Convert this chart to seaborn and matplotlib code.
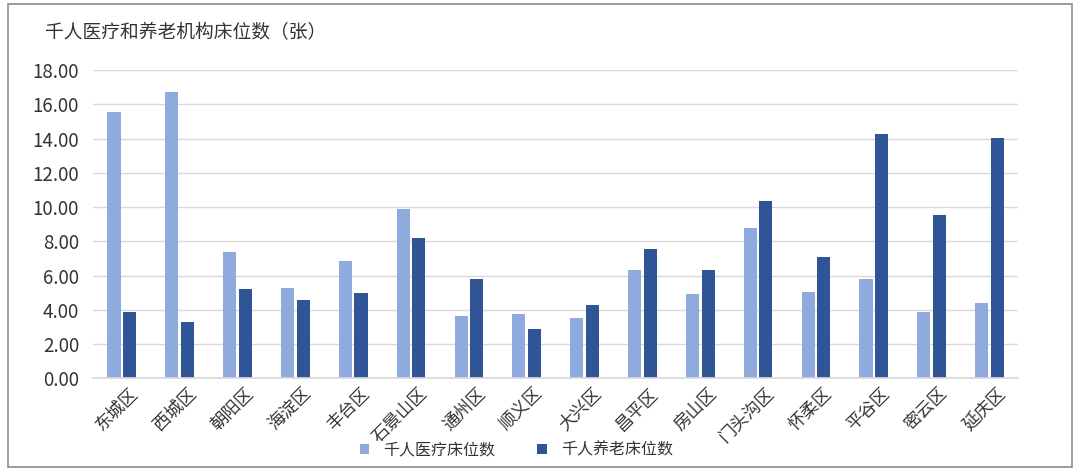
import matplotlib
matplotlib.use("Agg")
import matplotlib.pyplot as plt
import matplotlib.transforms as mtransforms
import seaborn as sns
import pandas as pd
from matplotlib.patches import FancyBboxPatch

districts = ["东城区", "西城区", "朝阳区", "海淀区", "丰台区", "石景山区", "通州区", "顺义区",
             "大兴区", "昌平区", "房山区", "门头沟区", "怀柔区", "平谷区", "密云区", "延庆区"]
medical = [15.55, 16.70, 7.36, 5.26, 6.84, 9.88, 3.62, 3.74,
           3.50, 6.31, 4.91, 8.77, 5.03, 5.79, 3.86, 4.38]
elderly = [3.86, 3.27, 5.20, 4.56, 4.97, 8.18, 5.79, 2.86,
           4.27, 7.54, 6.31, 10.34, 7.07, 14.26, 9.53, 14.03]
series_names = ["千人医疗床位数", "千人养老床位数"]
title = "千人医疗和养老机构床位数（张）"
yticks = [0, 2, 4, 6, 8, 10, 12, 14, 16, 18]

df = pd.DataFrame({
    "district": districts * 2,
    "value": medical + elderly,
    "series": [series_names[0]] * len(districts) + [series_names[1]] * len(districts),
})

sns.set_theme(style="white")
plt.rcParams["font.family"] = ["Noto Sans CJK SC", "DejaVu Sans"]

fig = plt.figure(figsize=(10.8, 4.71), dpi=100)
ax = fig.add_axes([0.086, 0.197, 0.857, 0.654])

sns.barplot(data=df, x="district", y="value", hue="series",
            palette=["#8FAADC", "#2F5597"], width=0.54, gap=0.16,
            saturation=1, linewidth=0, ax=ax, legend=True)

ax.set_ylim(0, 18)
ax.set_yticks(yticks)
ax.set_yticklabels([f"{v:.2f}" for v in yticks], fontsize=13.5, color="#333333")
ax.set_xlim(-0.5, len(districts) - 0.5)
ax.set_xlabel("")
ax.set_ylabel("")
ax.grid(axis="y", color="#D9D9D9", linewidth=1)
ax.set_axisbelow(True)
for s in ["top", "right", "left"]:
    ax.spines[s].set_visible(False)
ax.spines["bottom"].set_color("#D9D9D9")
ax.tick_params(axis="y", length=0, pad=10)
ax.tick_params(axis="x", length=0, pad=0)
offset = mtransforms.ScaledTranslation(7 / 100, -6 / 100, fig.dpi_scale_trans)
for lbl in ax.get_xticklabels():
    lbl.set_rotation(45)
    lbl.set_ha("right")
    lbl.set_rotation_mode("anchor")
    lbl.set_fontsize(12.5)
    lbl.set_color("#333333")
    lbl.set_transform(lbl.get_transform() + offset)

handles, labels = ax.get_legend_handles_labels()
ax.get_legend().remove()
leg = fig.legend(handles, labels, loc="center", bbox_to_anchor=(0.478, 0.045), ncol=2,
                 frameon=False, fontsize=11.5, handlelength=0.6, handleheight=0.6,
                 columnspacing=2.6, handletextpad=0.9)
for t in leg.get_texts():
    t.set_color("#333333")

fig.text(0.042, 0.93, title, fontsize=13.5, color="#333333", va="center", ha="left")

border = FancyBboxPatch((0.007, 0.008), 0.986, 0.984, boxstyle="square,pad=0",
                        transform=fig.transFigure, fill=False,
                        edgecolor="#8C8C8C", linewidth=1.2)
fig.patches.append(border)

fig.savefig("out.png", dpi=100)
